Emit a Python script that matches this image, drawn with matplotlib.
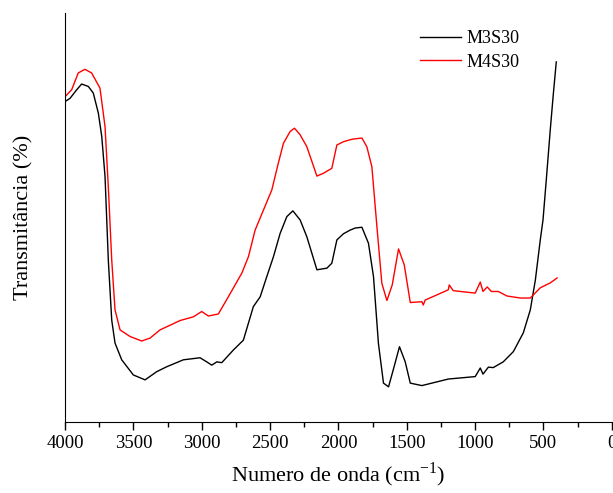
import matplotlib.pyplot as plt
from matplotlib.ticker import MultipleLocator

plt.rcParams['font.family'] = ['Liberation Serif', 'DejaVu Serif']

# M3S30 (black)
wn_m3 = [4000, 3963, 3914, 3878, 3829, 3793, 3756, 3731, 3707, 3683, 3658, 3634,
         3585, 3500, 3414, 3329, 3256, 3134, 3012, 2963, 2926, 2889, 2853, 2768,
         2695, 2622, 2572, 2524, 2475, 2426, 2377, 2333, 2280, 2231, 2157, 2084,
         2048, 2011, 1963, 1914, 1877, 1828, 1780, 1743, 1707, 1670, 1633, 1599,
         1553, 1511, 1474, 1389, 1196, 999, 962, 942, 903, 867, 794, 720, 647,
         596, 559, 523, 503, 479, 450, 428, 406]
t_m3 = [78.3, 79.1, 81.2, 82.6, 82.0, 80.4, 75.5, 69.8, 60.0, 39.6, 24.9, 19.3,
        15.2, 11.5, 10.3, 12.3, 13.5, 15.2, 15.7, 14.7, 13.9, 14.7, 14.5, 17.6,
        20.0, 28.2, 30.6, 35.5, 40.4, 46.1, 50.2, 51.6, 49.4, 45.3, 37.2, 37.6,
        38.8, 44.5, 46.0, 46.9, 47.4, 47.6, 43.7, 35.5, 19.2, 9.5, 8.6, 12.7,
        18.4, 14.7, 9.5, 8.9, 10.5, 11.1, 13.2, 11.7, 13.4, 13.3, 14.7, 17.2, 21.8,
        27.4, 34.7, 44.5, 49.4, 59.2, 71.4, 80.0, 88.0]

# M4S30 (red)
wn_m4 = [4000, 3951, 3903, 3854, 3805, 3744, 3707, 3683, 3658, 3634, 3597, 3524,
         3439, 3378, 3305, 3158, 3061, 3000, 2951, 2878, 2805, 2706, 2658, 2609,
         2548, 2487, 2439, 2402, 2353, 2321, 2280, 2231, 2157, 2109, 2048, 2011,
         1963, 1901, 1828, 1792, 1755, 1718, 1682, 1645, 1606, 1560, 1518, 1474,
         1389, 1379, 1365, 1196, 1189, 1160, 999, 962, 942, 911, 881, 830, 767,
         669, 596, 523, 450, 400]
t_m4 = [79.5, 81.2, 85.3, 86.2, 85.3, 81.6, 72.2, 57.5, 39.6, 27.4, 22.5, 20.9,
        19.8, 20.5, 22.5, 24.8, 25.7, 27.0, 25.9, 26.4, 30.6, 36.4, 40.4, 46.9,
        51.8, 56.7, 63.3, 68.1, 71.0, 71.8, 70.2, 67.3, 60.1, 60.8, 62.0, 67.7,
        68.5, 69.1, 69.4, 67.3, 62.4, 47.7, 33.9, 29.7, 33.5, 42.3, 38.4, 29.2,
        29.4, 28.6, 29.8, 32.3, 33.5, 32.1, 31.5, 34.2, 31.9, 33.0, 31.9, 31.9, 30.8,
        30.3, 30.3, 32.8, 34.0, 35.2]

fig = plt.figure(figsize=(6.13, 4.93), dpi=100)
ax = fig.add_axes([0.106, 0.144, 0.892, 0.830])

ax.plot(wn_m3, t_m3, color='black', lw=1.0, label='M3S30')
ax.plot(wn_m4, t_m4, color='red', lw=1.0, label='M4S30')

ax.set_xlim(4000, 0)
ax.set_ylim(0, 100)
ax.set_yticks([])
ax.xaxis.set_major_locator(MultipleLocator(500))
ax.xaxis.set_minor_locator(MultipleLocator(250))
ax.tick_params(axis='x', which='major', direction='out', length=6, width=1, labelsize=13.5)
ax.tick_params(axis='x', which='minor', direction='out', length=3.5, width=1)
ax.spines['top'].set_visible(False)
ax.spines['right'].set_visible(False)

ax.set_xlabel('Numero de onda (cm$^{\\mathregular{-1}}$)', fontsize=16, labelpad=6)
ax.set_ylabel('Transmitância (%)', fontsize=16, labelpad=23)

ax.legend(loc='upper left', frameon=False, fontsize=13, handlelength=2.3,
          handletextpad=0.3, borderpad=0, borderaxespad=0,
          bbox_to_anchor=(0.649, 0.958), labelspacing=0.37)

fig.savefig('out.png', dpi=100)
